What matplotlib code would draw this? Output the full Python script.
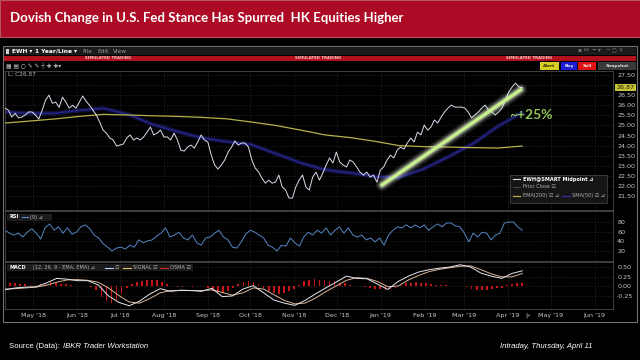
import numpy as np
import pandas as pd
import matplotlib
matplotlib.use("Agg")
import matplotlib.pyplot as plt
import matplotlib.dates as mdates
from matplotlib.patches import Rectangle

# ---- data ----
start_date = "2018-04-11"
end_date = "2019-04-11"

price = [
    25.86, 25.76, 25.42, 25.60, 25.37, 25.42, 25.52, 25.67, 25.67, 25.52,
    25.32, 25.76, 26.26, 26.50, 26.10, 26.16, 25.90, 26.40, 26.16, 25.86,
    26.00, 25.86, 26.16, 26.46, 26.20, 26.00, 25.76, 25.52, 25.17, 24.77,
    24.62, 24.38, 24.28, 23.98, 24.03, 24.08, 24.38, 24.53, 24.28, 24.38,
    24.28, 24.43, 24.67, 24.92, 24.53, 24.62, 24.77, 24.43, 24.43, 24.28,
    24.62, 24.28, 23.78, 23.73, 23.93, 24.03, 23.88, 24.18, 24.53, 24.28,
    24.18, 23.53, 23.04, 22.84, 23.04, 23.29, 23.68, 23.93, 24.23, 24.03,
    24.13, 24.13, 23.93, 23.29, 22.89, 22.69, 22.39, 22.14, 22.29, 22.14,
    22.19, 22.54, 21.95, 21.80, 21.40, 21.40, 21.95, 22.29, 22.54, 21.95,
    21.80, 22.44, 22.69, 22.29, 22.64, 23.04, 23.39, 23.14, 23.68, 23.19,
    23.04, 22.94, 23.29, 23.19, 22.94, 22.69, 22.54, 22.69, 22.44, 22.54,
    22.19, 22.79, 22.94, 23.29, 23.53, 23.39, 23.78, 23.93, 23.83, 24.13,
    24.38, 24.18, 24.67, 24.53, 25.02, 24.77, 24.92, 25.27, 25.12, 25.42,
    25.67, 25.86, 26.01, 25.91, 25.91, 25.91, 25.86, 25.67, 25.37, 25.52,
    25.67, 25.86, 26.01, 25.76, 25.67, 25.52, 25.67, 25.86, 26.26, 26.66,
    26.91, 27.10, 26.91, 26.87,
]

ema200 = [25.12, 25.22, 25.32, 25.45, 25.55, 25.52, 25.48, 25.45, 25.40, 25.33, 25.17,
          25.00, 24.77, 24.53, 24.40, 24.22, 24.00, 23.95, 23.93, 23.90, 23.88, 23.98]
sma50 = [25.67, 25.60, 25.60, 25.75, 25.85, 25.55, 25.05, 24.70, 24.38, 24.20, 24.05,
         23.60, 23.15, 22.80, 22.65, 22.47, 22.42, 22.85, 23.45, 24.10, 24.95, 25.65]

rsi = [
    63, 57, 53, 57, 49, 59, 66, 57, 45, 68, 76, 63, 70, 57, 68, 55, 59, 70, 74, 66,
    53, 47, 35, 28, 20, 26, 28, 24, 32, 28, 43, 37, 41, 43, 51, 57, 68, 49, 53, 59,
    47, 43, 53, 37, 32, 47, 49, 57, 63, 49, 43, 28, 26, 39, 55, 63, 59, 53, 47, 32,
    28, 20, 32, 30, 47, 37, 30, 49, 59, 53, 63, 57, 68, 53, 63, 70, 57, 68, 53, 49,
    53, 43, 47, 39, 47, 32, 53, 63, 70, 68, 74, 68, 74, 68, 74, 63, 70, 76, 70, 78,
    78, 72, 70, 57, 39, 57, 49, 59, 57, 43, 53, 57, 78, 80, 80, 70, 63,
]

macd = [-0.10, -0.05, -0.03, -0.02, 0.08, 0.20, 0.18, 0.14, 0.14, 0.03, -0.26,
        -0.43, -0.52, -0.40, -0.21, -0.07, -0.14, -0.11, -0.12, -0.14, -0.06,
        -0.28, -0.26, -0.08, 0.01, -0.18, -0.37, -0.45, -0.51, -0.38, -0.21,
        -0.05, 0.10, 0.26, 0.20, 0.19, 0.05, -0.09, 0.12, 0.26, 0.37,
        0.43, 0.47, 0.50, 0.56, 0.50, 0.34, 0.26, 0.20, 0.33, 0.40]
signal = [-0.08, -0.07, -0.05, -0.03, 0.02, 0.10, 0.16, 0.17, 0.15, 0.10, -0.05,
          -0.25, -0.42, -0.45, -0.33, -0.18, -0.12, -0.12, -0.12, -0.12, -0.10,
          -0.17, -0.24, -0.18, -0.05, -0.08, -0.23, -0.38, -0.47, -0.45, -0.32,
          -0.15, 0.00, 0.15, 0.22, 0.20, 0.12, -0.02, 0.00, 0.16, 0.28,
          0.38, 0.44, 0.48, 0.52, 0.53, 0.43, 0.32, 0.24, 0.24, 0.33]
osma = [
    0.08, 0.09, 0.08, 0.06, 0.04, 0.03, 0.03, 0.04, 0.07, 0.10,
    0.09, 0.06, 0.04, 0.02, 0.01, 0.00, 0.01, -0.02, -0.10, -0.28,
    -0.40, -0.45, -0.36, -0.20, -0.04, 0.06, 0.10, 0.13, 0.15, 0.16,
    0.15, 0.11, 0.05, 0.01, -0.02, -0.02, -0.01, -0.02, -0.01, 0.01,
    -0.04, -0.12, -0.17, -0.18, -0.14, -0.05, 0.06, 0.11, 0.13, 0.11,
    0.05, -0.06, -0.14, -0.18, -0.20, -0.19, -0.14, -0.08, 0.03, 0.12,
    0.16, 0.18, 0.17, 0.15, 0.14, 0.12, 0.09, 0.07, 0.03, 0.01,
    0.00, -0.02, -0.05, -0.07, -0.09, -0.10, -0.09, -0.05, 0.02, 0.07,
    0.09, 0.10, 0.08, 0.07, 0.05, 0.03, 0.02, 0.02, 0.01, 0.01,
    -0.01, -0.03, -0.07, -0.10, -0.11, -0.10, -0.08, -0.06, -0.04, 0.02,
    0.06, 0.08, 0.07,
]

trend_dates = ["2019-01-02", "2019-04-10"]
trend_prices = [22.05, 26.78]
last_price = 26.87

price_ticks = [21.5, 22.0, 22.5, 23.0, 23.5, 24.0, 24.5, 25.0, 25.5, 26.0, 26.5, 27.0, 27.5]
rsi_ticks = [20, 40, 60, 80]
macd_ticks = [-0.25, 0.0, 0.25, 0.50]

x_range = ["2018-04-11", "2019-06-14"]


def series_dates(values):
    return pd.date_range(start_date, end_date, periods=len(values))


def fr(x0, y0, x1, y1):
    # pixel box -> figure fraction
    return [x0 / 640, 1 - y1 / 360, (x1 - x0) / 640, (y1 - y0) / 360]


TXT = "#c8c8c8"
GRID = "#272727"

fig = plt.figure(figsize=(6.4, 3.6), dpi=100, facecolor="black")

bg = fig.add_axes([0, 0, 1, 1], zorder=0)
bg.set_xlim(0, 640)
bg.set_ylim(360, 0)
bg.axis("off")

fg = fig.add_axes([0, 0, 1, 1], zorder=5)
fg.set_xlim(0, 640)
fg.set_ylim(360, 0)
fg.axis("off")
fg.patch.set_alpha(0)

# banner
bg.add_patch(Rectangle((0, 0), 640, 37, fc="#ad0b25", ec="#c86475", lw=0.6))
bg.text(10, 18.5, "Dovish Change in U.S. Fed Stance Has Spurred  HK Equities Higher",
        color="white", fontsize=9.5, fontweight="bold", family=["Lato", "DejaVu Sans"],
        va="center", ha="left")

# platform window chrome
bg.add_patch(Rectangle((3, 46), 634, 276, fc="black", ec="#707070", lw=0.8))
bg.add_patch(Rectangle((4, 47), 632, 8, fc="#1b1b1b", ec="none"))
bg.add_patch(Rectangle((4, 55.5), 632, 5.5, fc="#b3101e", ec="none"))
bg.add_patch(Rectangle((5.5, 48.5), 3, 5, fc="#d0d0d0", ec="none"))
bg.text(12, 51.2, "EWH ▾", color="white", fontsize=4.2, fontweight="bold", va="center")
bg.text(35, 51.2, "1 Year/Line ▾", color="white", fontsize=4.2, fontweight="bold", va="center")
for lx, lab in [(82, "File"), (97, "Edit"), (113, "View")]:
    bg.text(lx, 51.2, lab, color="#9a9a9a", fontsize=4.2, va="center")
bg.text(578, 51.2, "▪ ⚯  ━ ▾   ─ ◻ ✕", color="#707070", fontsize=4.2, va="center")
for cx in [108, 318, 529]:
    bg.text(cx, 58.3, "SIMULATED TRADING", color="#f2c6c6", fontsize=2.8,
            fontweight="bold", ha="center", va="center")
bg.text(6, 65.5, "▦ ▤ ○ ✎ ✎ ┼ ✚ ✚▾", color="#bdbdbd", fontsize=4.2, va="center")
for bx0, bx1, fc, tc, lab in [(540, 559, "#d6cf26", "#2a2a00", "Alert"),
                              (561, 577, "#1c1cd6", "#e8e8ff", "Buy"),
                              (578, 596, "#e01414", "#ffe0e0", "Sell"),
                              (598, 636, "#3a3a3a", "#dddddd", "Snapshot")]:
    bg.add_patch(Rectangle((bx0, 62), bx1 - bx0, 7.5, fc=fc, ec="none"))
    bg.text((bx0 + bx1) / 2, 65.8, lab, color=tc, fontsize=3.2, fontweight="bold",
            ha="center", va="center")

# panes
ax1 = fig.add_axes(fr(5, 71, 613, 210), zorder=2)
ax2 = fig.add_axes(fr(5, 211, 613, 261), zorder=2)
ax3 = fig.add_axes(fr(5, 262, 613, 309), zorder=2)

xlim = pd.to_datetime(x_range)
for ax in (ax1, ax2, ax3):
    ax.set_facecolor("black")
    ax.set_xlim(xlim[0], xlim[1])
    ax.xaxis.set_major_locator(mdates.MonthLocator())
    ax.xaxis.set_major_formatter(mdates.DateFormatter("%b '%y"))
    ax.yaxis.tick_right()
    ax.tick_params(axis="both", length=0, labelsize=4.6, labelcolor=TXT, pad=3)
    ax.grid(True, color=GRID, lw=0.5, ls=(0, (2, 2)))
    ax.set_axisbelow(True)
    for s in ax.spines.values():
        s.set_color("#4a4a4a")
        s.set_linewidth(0.6)
ax1.tick_params(axis="x", labelbottom=False)
ax2.tick_params(axis="x", labelbottom=False)

# price pane
ax1.plot(series_dates(sma50), sma50, color="#1c1c68", lw=3.2, alpha=0.55, zorder=2)
ax1.plot(series_dates(sma50), sma50, color="#26268a", lw=1.2, alpha=0.9, zorder=2)
ax1.plot(series_dates(ema200), ema200, color="#b5b24c", lw=0.9, zorder=3)
ax1.plot(series_dates(price), price, color="#dcdcec", lw=0.7, zorder=4)
td = pd.to_datetime(trend_dates)
for lw, a in [(9, 0.10), (6.5, 0.18), (4.5, 0.35)]:
    ax1.plot(td, trend_prices, color="#f2ffe2", lw=lw, alpha=a,
             solid_capstyle="round", zorder=5)
ax1.plot(td, trend_prices, color="#c8f08c", lw=2.4, solid_capstyle="round", zorder=6)
ax1.text(pd.Timestamp("2019-04-02"), 25.52, "~+25%", color="#8fc65a", fontsize=10,
         fontweight="bold", family=["Lato", "DejaVu Sans"], ha="left", va="center", zorder=7)
ax1.set_ylim(20.81, 27.70)
ax1.set_yticks(price_ticks)
ax1.set_yticklabels(["" if v == 27.0 else f"{v:.2f}" for v in price_ticks])
ax1.text(1.006, last_price, f"{last_price:.2f}", transform=ax1.get_yaxis_transform(),
         ha="left", va="center", fontsize=4.6, color="#1e1e00", zorder=8,
         bbox=dict(boxstyle="square,pad=0.18", fc="#c9c23a", ec="none"), clip_on=False)

# RSI pane
ax2.plot(series_dates(rsi), rsi, color="#5587c4", lw=0.7)
ax2.set_ylim(-0.7, 102.8)
ax2.set_yticks(rsi_ticks)

# MACD pane
ax3.bar(series_dates(osma), osma, width=1.2, color="#c81414", zorder=2)
ax3.plot(series_dates(signal), signal, color="#dcb79a", lw=0.7, zorder=3)
ax3.plot(series_dates(macd), macd, color="#e6e6f0", lw=0.7, zorder=4)
ax3.set_ylim(-0.605, 0.632)
ax3.set_yticks(macd_ticks)
ax3.set_yticklabels([f"{v:.2f}" for v in macd_ticks])
ax3.text(pd.Timestamp("2019-04-13"), -0.13, "|»", transform=ax3.get_xaxis_transform(),
         color=TXT, fontsize=4.2, ha="left", va="center")

# overlays: labels and legends inside panes
fg.text(8, 75, "L: C26.87", color="#b0b0b0", fontsize=4.2, va="center")

fg.add_patch(Rectangle((510, 175), 97, 28, fc="#151515", ec="#4a4a4a", lw=0.5))
fg.plot([513, 520], [179, 179], color="#e0e0e0", lw=0.8)
fg.text(523, 179, "EWH@SMART Midpoint ⊿", color="white", fontsize=3.6,
        fontweight="bold", va="center")
fg.plot([513, 520], [187, 187], color="#9a9a9a", lw=0.6, ls=(0, (1, 1)))
fg.text(523, 187, "Prior Close ☑", color="#b5b5b5", fontsize=3.6, va="center")
fg.plot([513, 520], [196, 196], color="#b5b24c", lw=0.9)
fg.text(523, 196, "EMA(200) ☑ ⊿", color="#b5b5b5", fontsize=3.6, va="center")
fg.plot([562, 570], [196, 196], color="#3434a8", lw=0.9)
fg.text(572, 196, "SMA(50) ☑ ⊿", color="#b5b5b5", fontsize=3.6, va="center")

fg.add_patch(Rectangle((7, 213.5), 45, 7, fc="#1c1c1c", ec="none"))
fg.text(9, 217, "RSI", color="white", fontsize=3.6, fontweight="bold", va="center")
fg.plot([22, 28], [217, 217], color="#5587c4", lw=0.8)
fg.text(30, 217, "(9) ⊿", color="#b5b5b5", fontsize=3.6, va="center")

fg.add_patch(Rectangle((7, 264), 186, 7, fc="#1c1c1c", ec="none"))
fg.text(9, 267.5, "MACD", color="white", fontsize=3.6, fontweight="bold", va="center")
fg.text(33, 267.5, "(12, 26, 9 - EMA, EMA) ⊿", color="#b5b5b5", fontsize=3.6, va="center")
fg.plot([105, 113], [267.5, 267.5], color="#b8c8ff", lw=0.8)
fg.text(115, 267.5, "☑", color="#b5b5b5", fontsize=3.6, va="center")
fg.plot([123, 131], [267.5, 267.5], color="#d8c060", lw=0.8)
fg.text(133, 267.5, "SIGNAL ☑", color="#b5b5b5", fontsize=3.6, va="center")
fg.plot([160, 168], [267.5, 267.5], color="#d02020", lw=0.8)
fg.text(170, 267.5, "OSMA ☑", color="#b5b5b5", fontsize=3.6, va="center")

# footer
src = bg.text(9, 346, "Source (Data):", color="white", fontsize=5.6,
              family=["Liberation Sans", "DejaVu Sans"], va="center")
bg.annotate("IBKR Trader Workstation", xy=(1, 0.5), xycoords=src, xytext=(2.5, 0),
            textcoords="offset points", color="white", fontsize=5.6, style="italic",
            family=["Liberation Sans", "DejaVu Sans"], va="center")
bg.text(592, 346, "Intraday, Thursday, April 11", color="white", fontsize=5.6,
        style="italic", family=["Liberation Sans", "DejaVu Sans"], ha="right", va="center")

fig.savefig("out.png", dpi=100, facecolor="black")
